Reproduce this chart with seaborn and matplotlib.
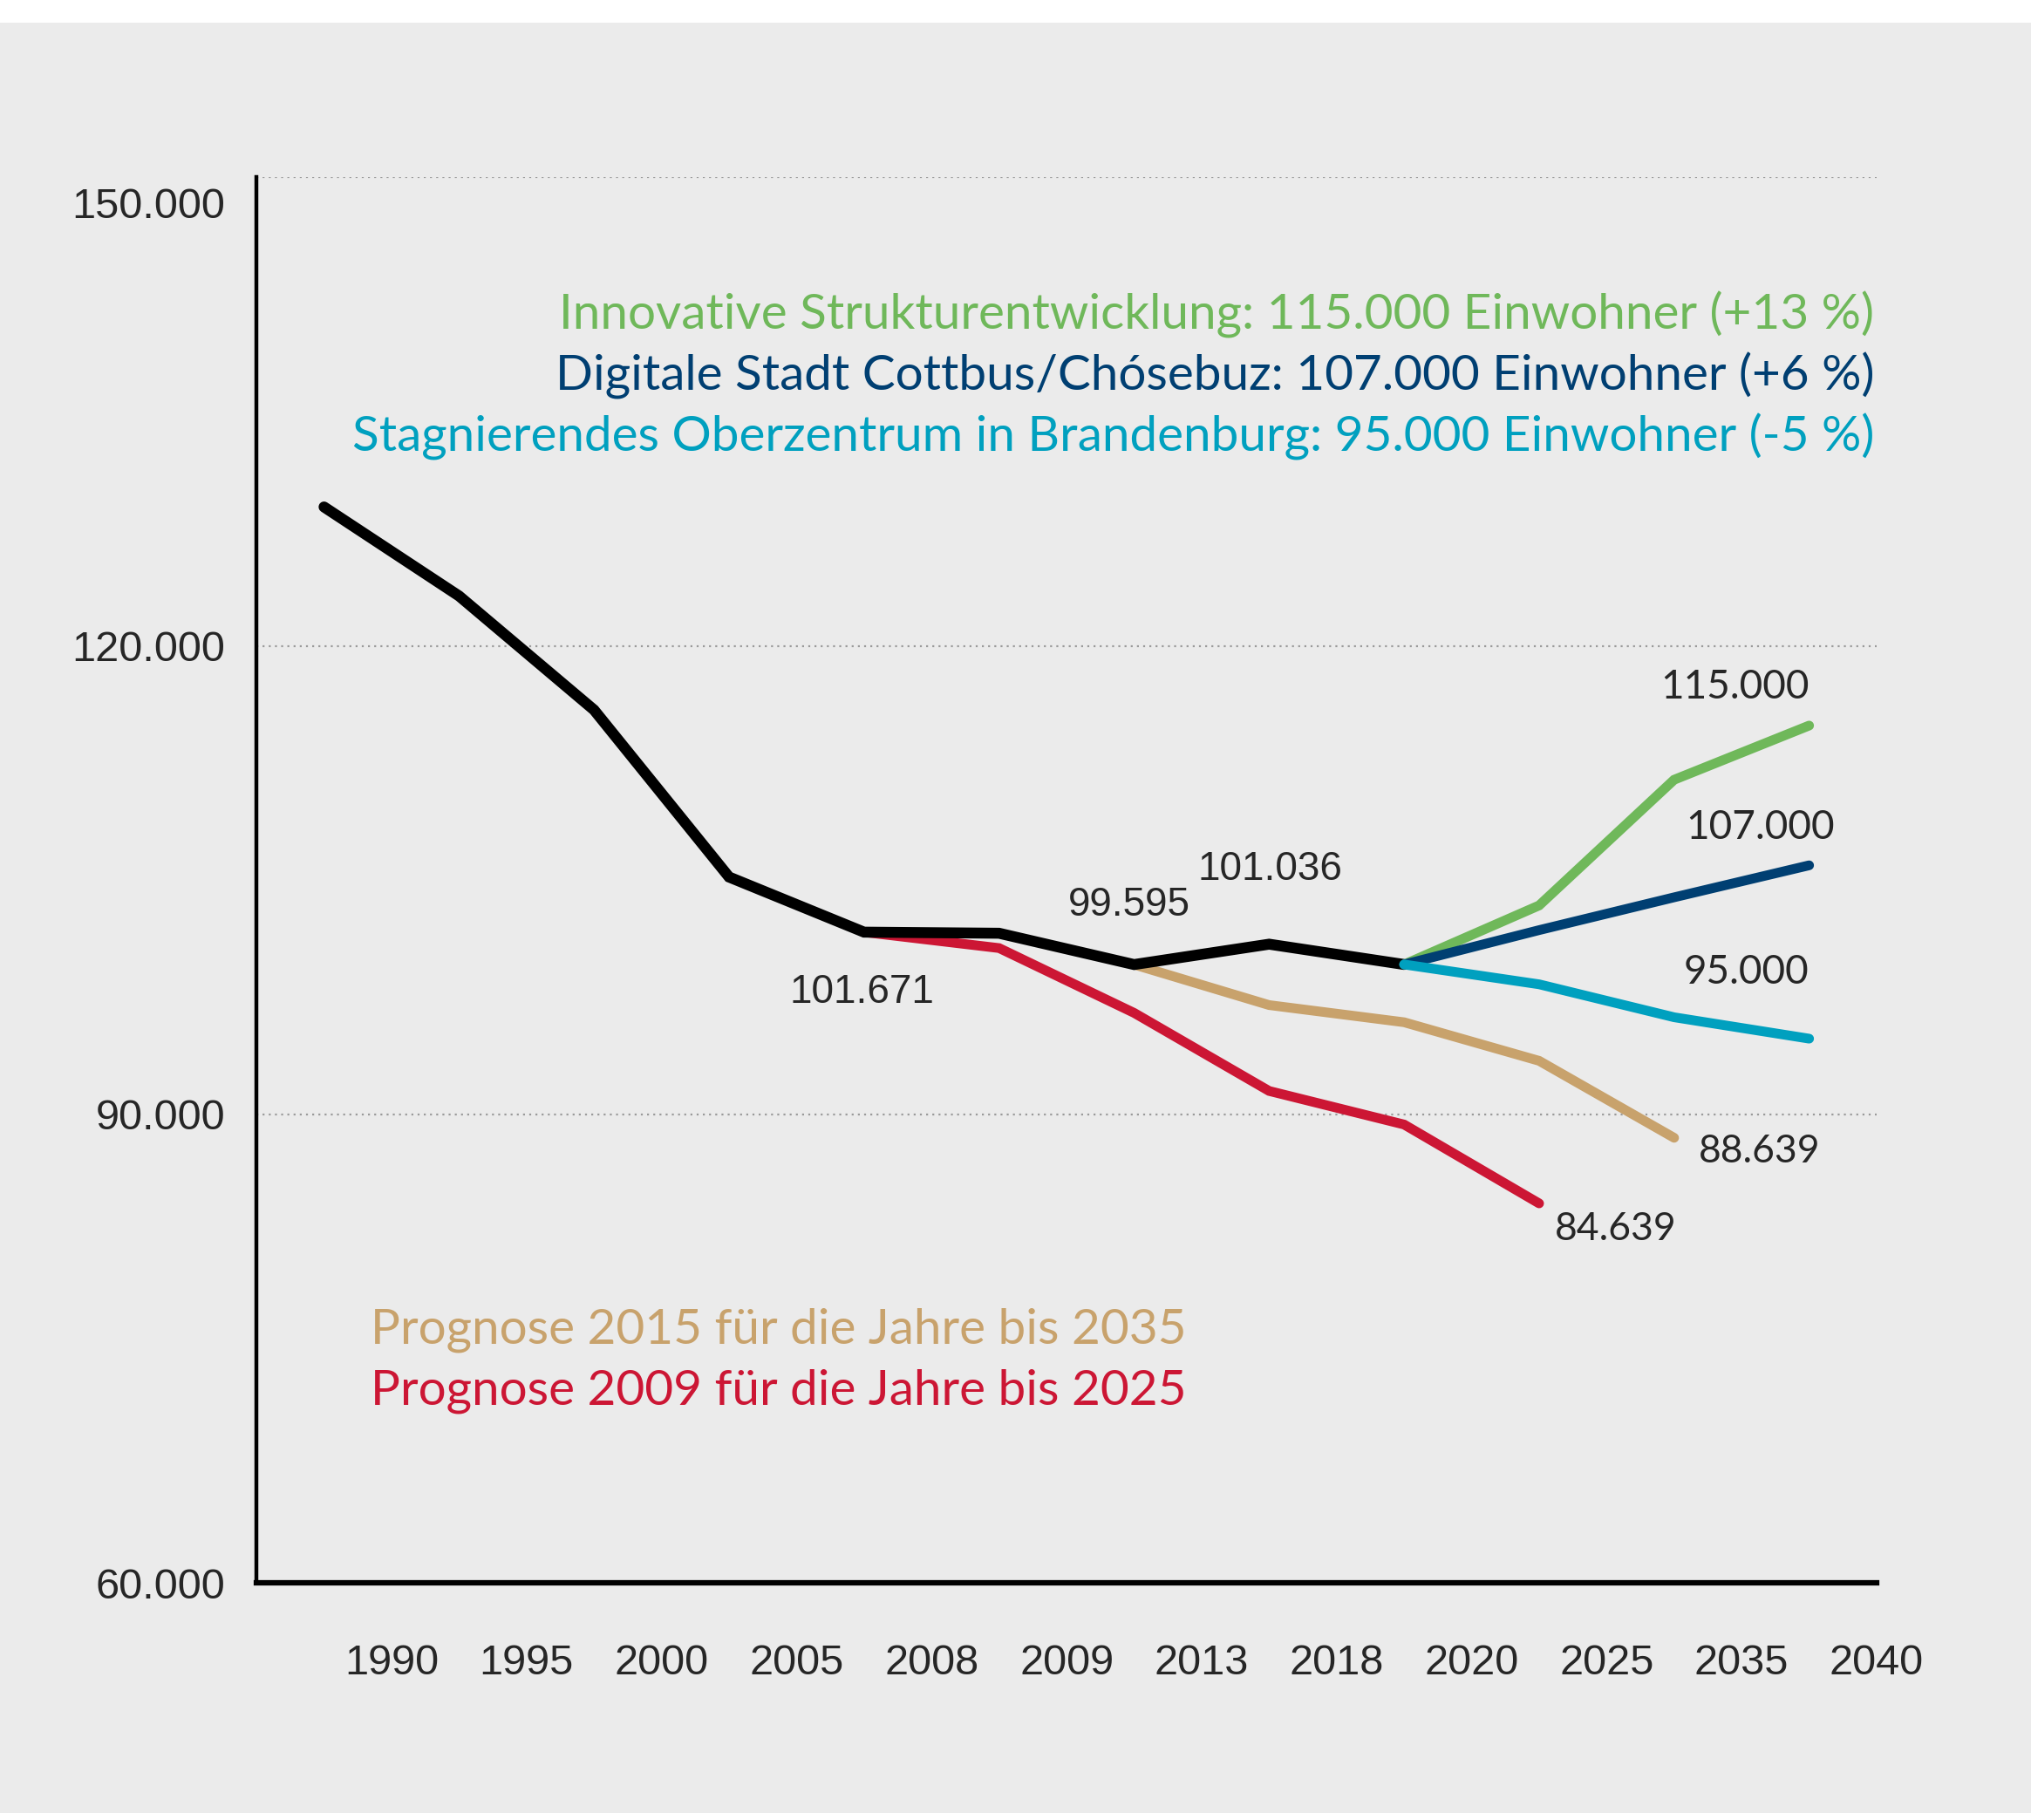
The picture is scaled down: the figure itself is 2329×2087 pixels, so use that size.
import numpy as np
import pandas as pd
import matplotlib
matplotlib.use("Agg")
import matplotlib.pyplot as plt
import matplotlib.transforms as mtransforms
from matplotlib.patches import Rectangle
import seaborn as sns

# -----------------------------
# data
# -----------------------------
year_labels = ["1990", "1995", "2000", "2005", "2008", "2009",
               "2013", "2018", "2020", "2025", "2035", "2040"]
y_ticks = [60000, 90000, 120000, 150000]
y_tick_labels = ["60.000", "90.000", "120.000", "150.000"]

# points sit in the slots between the year ticks
actual_slots = [0, 1, 2, 3, 4, 5, 6, 7, 8]
actual = [128900, 123200, 115900, 105200, 101671, 101600, 99595, 100900, 99600]

prog2009_slots = [4, 5, 6, 7, 8, 9]
prog2009 = [101671, 100650, 96500, 91500, 89350, 84300]

prog2015_slots = [6, 7, 8, 9, 10]
prog2015 = [99595, 97000, 95900, 93430, 88500]

innov_slots = [8, 9, 10, 11]
innov = [99600, 103380, 111430, 114900]

digital_slots = [8, 9, 10, 11]
digital = [99600, 101800, 103900, 105950]

stagn_slots = [8, 9, 10, 11]
stagn = [99600, 98330, 96220, 94850]

# -----------------------------
# style
# -----------------------------
sns.set_style("white")
numfont = ["Liberation Sans", "DejaVu Sans"]
plain = ["Lato", "DejaVu Sans"]
plt.rcParams["font.family"] = numfont

c_black = "#000000"
c_red = "#cc1634"
c_tan = "#c8a26c"
c_green = "#6fb85a"
c_navy = "#003f72"
c_teal = "#00a0bf"

fig = plt.figure(figsize=(23.29, 20.87), dpi=100)
fig.patch.set_facecolor("white")
fig.patches.append(Rectangle((0, 0.0038), 1, 0.9837, transform=fig.transFigure,
                             facecolor="#ebebeb", edgecolor="none", zorder=-10))

ax = fig.add_axes([0.1263, 0.1303, 0.7977, 0.7722])
ax.set_facecolor("none")

series = [
    (prog2009_slots, prog2009, c_red, 8, 2),
    (prog2015_slots, prog2015, c_tan, 8, 3),
    (actual_slots, actual, c_black, 9, 4),
    (innov_slots, innov, c_green, 8, 5),
    (digital_slots, digital, c_navy, 8, 6),
    (stagn_slots, stagn, c_teal, 8, 7),
]
for xs, ys, col, lw, z in series:
    d = pd.DataFrame({"slot": xs, "value": ys})
    sns.lineplot(data=d, x="slot", y="value", ax=ax, color=col, linewidth=lw,
                 solid_capstyle="round", solid_joinstyle="miter", zorder=z)

# dotted grid
for g in y_ticks[1:]:
    ax.axhline(g, color="#9a9a9a", linestyle=(0, (1, 2.2)), linewidth=1.6, zorder=1)

ax.set_xlim(-0.5, 11.5)
ax.set_ylim(60000, 150000)
ax.set_xticks(np.arange(len(year_labels)) + 0.5)
ax.set_xticklabels(year_labels, fontsize=35, family=numfont)
ax.set_yticks(y_ticks)
ax.set_yticklabels(y_tick_labels, fontsize=35, family=numfont)
ax.tick_params(axis="x", direction="in", length=26, width=3, pad=50, color="black")
ax.tick_params(axis="y", length=0, pad=26)
ax.set_xlabel("")
ax.set_ylabel("")

top_lbl = ax.get_yticklabels()[-1]
top_lbl.set_transform(top_lbl.get_transform() +
                      mtransforms.ScaledTranslation(0, -21 / 72, fig.dpi_scale_trans))

for s in ["top", "right"]:
    ax.spines[s].set_visible(False)
ax.spines["left"].set_linewidth(3.2)
ax.spines["bottom"].set_linewidth(4.5)
ax.spines["left"].set_color("black")
ax.spines["bottom"].set_color("black")

# -----------------------------
# value labels
# -----------------------------
ax.annotate("101.671", (actual_slots[4], actual[4]), xytext=(-2, -50),
            textcoords="offset points", ha="center", va="center", fontsize=33, family=numfont)
ax.annotate("99.595", (actual_slots[6], actual[6]), xytext=(-4, 49),
            textcoords="offset points", ha="center", va="center", fontsize=33, family=numfont)
ax.annotate("101.036", (actual_slots[7], actual[7]), xytext=(1, 62),
            textcoords="offset points", ha="center", va="center", fontsize=33, family=numfont)

ax.annotate("115.000", (innov_slots[-1], innov[-1]), xytext=(0, 32),
            textcoords="offset points", ha="right", va="center", fontsize=33, family=plain)
ax.annotate("107.000", (digital_slots[-1], digital[-1]), xytext=(21, 31),
            textcoords="offset points", ha="right", va="center", fontsize=33, family=plain)
ax.annotate("95.000", (stagn_slots[-1], stagn[-1]), xytext=(0, 55),
            textcoords="offset points", ha="right", va="center", fontsize=33, family=plain)
ax.annotate("88.639", (prog2015_slots[-1], prog2015[-1]), xytext=(20, -11),
            textcoords="offset points", ha="left", va="center", fontsize=32, family=plain)
ax.annotate("84.639", (prog2009_slots[-1], prog2009[-1]), xytext=(13, -21),
            textcoords="offset points", ha="left", va="center", fontsize=32, family=plain)

# -----------------------------
# scenario texts
# -----------------------------
ax.text(0.9984, 0.9023, "Innovative Strukturentwicklung: 115.000 Einwohner (+13 %)",
        transform=ax.transAxes, ha="right", va="center", fontsize=40.8, color=c_green, family=plain)
ax.text(0.9984, 0.859, "Digitale Stadt Cottbus/Chósebuz: 107.000 Einwohner (+6 %)",
        transform=ax.transAxes, ha="right", va="center", fontsize=40.8, color=c_navy, family=plain)
ax.text(0.9984, 0.8157, "Stagnierendes Oberzentrum in Brandenburg: 95.000 Einwohner (-5 %)",
        transform=ax.transAxes, ha="right", va="center", fontsize=40.8, color=c_teal, family=plain)

ax.text(0.0703, 0.1797, "Prognose 2015 für die Jahre bis 2035",
        transform=ax.transAxes, ha="left", va="center", fontsize=40.8, color=c_tan, family=plain)
ax.text(0.0703, 0.1364, "Prognose 2009 für die Jahre bis 2025",
        transform=ax.transAxes, ha="left", va="center", fontsize=40.8, color=c_red, family=plain)

fig.savefig("out.png", dpi=100, facecolor=fig.get_facecolor())
